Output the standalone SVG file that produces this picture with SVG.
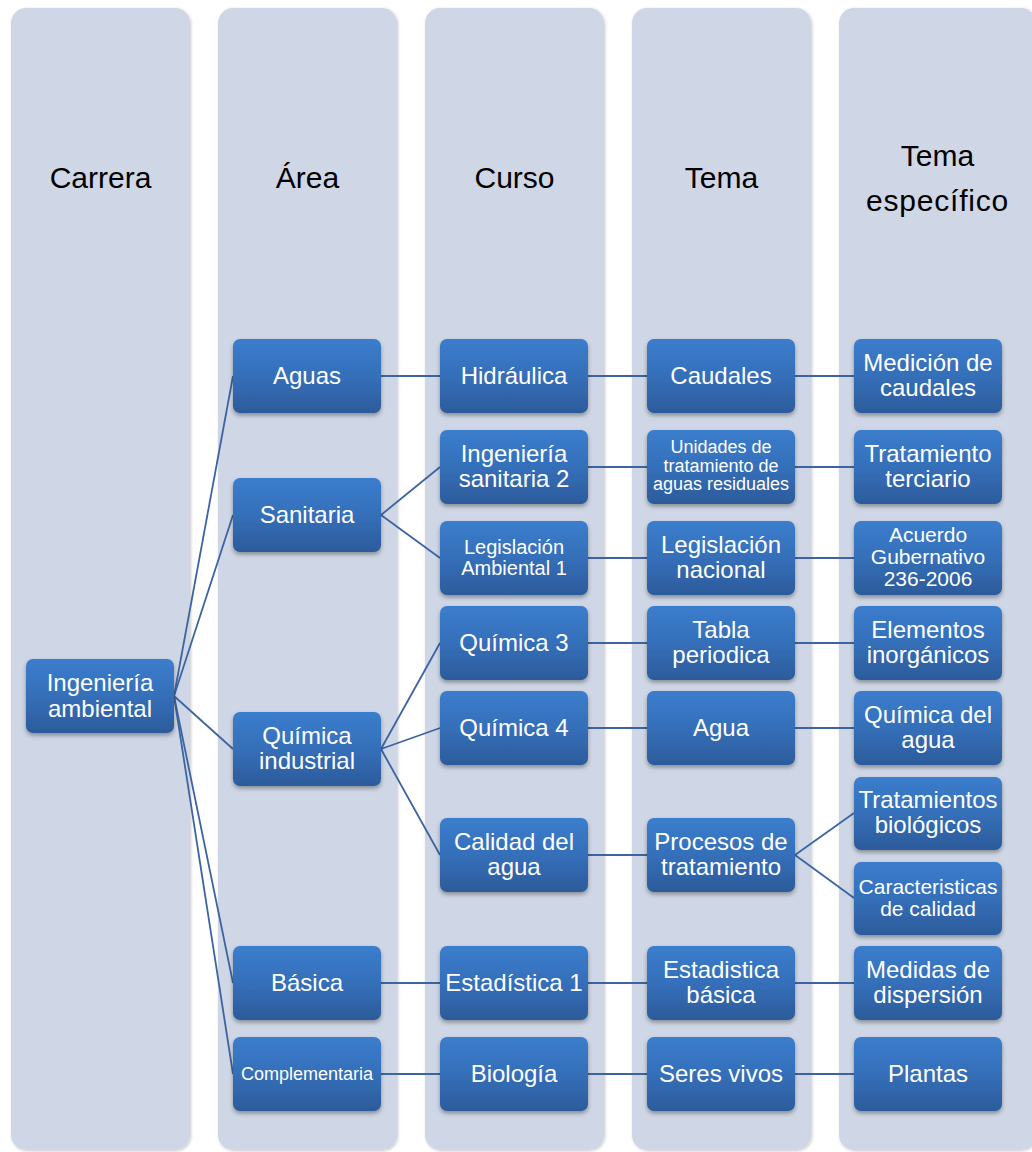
<svg xmlns="http://www.w3.org/2000/svg" width="1032" height="1152" viewBox="0 0 1032 1152">
<defs>
<linearGradient id="ng" x1="0" y1="0" x2="0" y2="1">
<stop offset="0" stop-color="#3B7DCD"/>
<stop offset="0.5" stop-color="#356FB9"/>
<stop offset="1" stop-color="#2C5B9B"/>
</linearGradient>
<filter id="ns" x="-10%" y="-10%" width="125%" height="135%">
<feDropShadow dx="0" dy="2.5" stdDeviation="2" flood-color="#000" flood-opacity="0.35"/>
</filter>
<filter id="cs" x="-5%" y="-2%" width="112%" height="104%">
<feDropShadow dx="1" dy="1" stdDeviation="1.5" flood-color="#000" flood-opacity="0.22"/>
</filter>
</defs>
<style>
.col{fill:#CFD7E6;filter:url(#cs)}
.hd{font-family:"Liberation Sans",Arial,sans-serif;font-size:30px;fill:#000;text-anchor:middle}
.nd rect{fill:url(#ng);filter:url(#ns)}
.nd text{font-family:"Liberation Sans",Arial,sans-serif;font-size:24px;fill:#fff;text-anchor:middle}
.nd text.s20{font-size:20px}
.nd text.s18{font-size:18px}
.nd text.s21{font-size:21px}
.cn line{stroke:#3D64A0;stroke-width:1.8}
</style>
<rect width="1032" height="1152" fill="#fff"/>
<g id="columns">
<rect class="col" x="11" y="8" width="179" height="1142" rx="15"/>
<rect class="col" x="218" y="8" width="179" height="1142" rx="15"/>
<rect class="col" x="425" y="8" width="179" height="1142" rx="15"/>
<rect class="col" x="632" y="8" width="179" height="1142" rx="15"/>
<rect class="col" x="839" y="8" width="197" height="1142" rx="15"/>
<text class="hd" x="100.5" y="188">Carrera</text>
<text class="hd" x="307.5" y="188">Área</text>
<text class="hd" x="514.5" y="188">Curso</text>
<text class="hd" x="721.5" y="188">Tema</text>
<text class="hd" x="937.5" y="166">Tema</text>
<text class="hd" x="937.5" y="211" letter-spacing="0.8">específico</text>
</g>
<g id="connectors" class="cn">
<line x1="174" y1="696" x2="233" y2="376"/>
<line x1="174" y1="696" x2="233" y2="515"/>
<line x1="174" y1="696" x2="233" y2="749"/>
<line x1="174" y1="696" x2="233" y2="983"/>
<line x1="174" y1="696" x2="233" y2="1074"/>
<line x1="381" y1="376" x2="440" y2="376"/>
<line x1="381" y1="515" x2="440" y2="467"/>
<line x1="381" y1="515" x2="440" y2="558"/>
<line x1="381" y1="749" x2="440" y2="643"/>
<line x1="381" y1="749" x2="440" y2="728"/>
<line x1="381" y1="749" x2="440" y2="855"/>
<line x1="381" y1="983" x2="440" y2="983"/>
<line x1="381" y1="1074" x2="440" y2="1074"/>
<line x1="588" y1="376" x2="647" y2="376"/>
<line x1="588" y1="467" x2="647" y2="467"/>
<line x1="588" y1="558" x2="647" y2="558"/>
<line x1="588" y1="643" x2="647" y2="643"/>
<line x1="588" y1="728" x2="647" y2="728"/>
<line x1="588" y1="855" x2="647" y2="855"/>
<line x1="588" y1="983" x2="647" y2="983"/>
<line x1="588" y1="1074" x2="647" y2="1074"/>
<line x1="795" y1="376" x2="854" y2="376"/>
<line x1="795" y1="467" x2="854" y2="467"/>
<line x1="795" y1="558" x2="854" y2="558"/>
<line x1="795" y1="643" x2="854" y2="643"/>
<line x1="795" y1="728" x2="854" y2="728"/>
<line x1="795" y1="855" x2="854" y2="813"/>
<line x1="795" y1="855" x2="854" y2="898"/>
<line x1="795" y1="983" x2="854" y2="983"/>
<line x1="795" y1="1074" x2="854" y2="1074"/>
</g>
<g id="n-ing-amb" class="nd"><rect x="26" y="659" width="148" height="74" rx="7"/><text x="100" y="691">Ingeniería</text><text x="100" y="717">ambiental</text></g>
<g id="n-aguas" class="nd"><rect x="233" y="339" width="148" height="74" rx="7"/><text x="307" y="384">Aguas</text></g>
<g id="n-sanitaria" class="nd"><rect x="233" y="478" width="148" height="74" rx="7"/><text x="307" y="523">Sanitaria</text></g>
<g id="n-quim-ind" class="nd"><rect x="233" y="712" width="148" height="74" rx="7"/><text x="307" y="744">Química</text><text x="307" y="769">industrial</text></g>
<g id="n-basica" class="nd"><rect x="233" y="946" width="148" height="74" rx="7"/><text x="307" y="991">Básica</text></g>
<g id="n-complem" class="nd"><rect x="233" y="1037" width="148" height="74" rx="7"/><text class="s18" x="307" y="1080">Complementaria</text></g>
<g id="n-hidraulica" class="nd"><rect x="440" y="339" width="148" height="74" rx="7"/><text x="514" y="384">Hidráulica</text></g>
<g id="n-ing-san2" class="nd"><rect x="440" y="430" width="148" height="74" rx="7"/><text x="514" y="462">Ingeniería</text><text x="514" y="487">sanitaria 2</text></g>
<g id="n-leg-amb1" class="nd"><rect x="440" y="521" width="148" height="74" rx="7"/><text class="s20" x="514" y="554">Legislación</text><text class="s20" x="514" y="575">Ambiental 1</text></g>
<g id="n-quim3" class="nd"><rect x="440" y="606" width="148" height="74" rx="7"/><text x="514" y="651">Química 3</text></g>
<g id="n-quim4" class="nd"><rect x="440" y="691" width="148" height="74" rx="7"/><text x="514" y="736">Química 4</text></g>
<g id="n-calidad" class="nd"><rect x="440" y="818" width="148" height="74" rx="7"/><text x="514" y="850">Calidad del</text><text x="514" y="875">agua</text></g>
<g id="n-estad1" class="nd"><rect x="440" y="946" width="148" height="74" rx="7"/><text x="514" y="991">Estadística 1</text></g>
<g id="n-biologia" class="nd"><rect x="440" y="1037" width="148" height="74" rx="7"/><text x="514" y="1082">Biología</text></g>
<g id="n-caudales" class="nd"><rect x="647" y="339" width="148" height="74" rx="7"/><text x="721" y="384">Caudales</text></g>
<g id="n-unidades" class="nd"><rect x="647" y="430" width="148" height="74" rx="7"/><text class="s18" x="721" y="453">Unidades de</text><text class="s18" x="721" y="471.5">tratamiento de</text><text class="s18" x="721" y="490">aguas residuales</text></g>
<g id="n-leg-nac" class="nd"><rect x="647" y="521" width="148" height="74" rx="7"/><text x="721" y="553">Legislación</text><text x="721" y="578">nacional</text></g>
<g id="n-tabla" class="nd"><rect x="647" y="606" width="148" height="74" rx="7"/><text x="721" y="638">Tabla</text><text x="721" y="663">periodica</text></g>
<g id="n-agua" class="nd"><rect x="647" y="691" width="148" height="74" rx="7"/><text x="721" y="736">Agua</text></g>
<g id="n-procesos" class="nd"><rect x="647" y="818" width="148" height="74" rx="7"/><text x="721" y="850">Procesos de</text><text x="721" y="875">tratamiento</text></g>
<g id="n-estad-bas" class="nd"><rect x="647" y="946" width="148" height="74" rx="7"/><text x="721" y="978">Estadistica</text><text x="721" y="1003">básica</text></g>
<g id="n-seres" class="nd"><rect x="647" y="1037" width="148" height="74" rx="7"/><text x="721" y="1082">Seres vivos</text></g>
<g id="n-medicion" class="nd"><rect x="854" y="339" width="148" height="74" rx="7"/><text x="928" y="371">Medición de</text><text x="928" y="396">caudales</text></g>
<g id="n-terciario" class="nd"><rect x="854" y="430" width="148" height="74" rx="7"/><text x="928" y="462">Tratamiento</text><text x="928" y="487">terciario</text></g>
<g id="n-acuerdo" class="nd"><rect x="854" y="521" width="148" height="74" rx="7"/><text class="s21" x="928" y="542">Acuerdo</text><text class="s21" x="928" y="564">Gubernativo</text><text class="s21" x="928" y="586">236-2006</text></g>
<g id="n-elementos" class="nd"><rect x="854" y="606" width="148" height="74" rx="7"/><text x="928" y="638">Elementos</text><text x="928" y="663">inorgánicos</text></g>
<g id="n-quim-agua" class="nd"><rect x="854" y="691" width="148" height="74" rx="7"/><text x="928" y="723">Química del</text><text x="928" y="748">agua</text></g>
<g id="n-biolog" class="nd"><rect x="854" y="777" width="148" height="73" rx="7"/><text x="928" y="808">Tratamientos</text><text x="928" y="833">biológicos</text></g>
<g id="n-caract" class="nd"><rect x="854" y="862" width="148" height="73" rx="7"/><text class="s21" x="928" y="894">Caracteristicas</text><text class="s21" x="928" y="916">de calidad</text></g>
<g id="n-medidas" class="nd"><rect x="854" y="946" width="148" height="74" rx="7"/><text x="928" y="978">Medidas de</text><text x="928" y="1003">dispersión</text></g>
<g id="n-plantas" class="nd"><rect x="854" y="1037" width="148" height="74" rx="7"/><text x="928" y="1082">Plantas</text></g>
</svg>
